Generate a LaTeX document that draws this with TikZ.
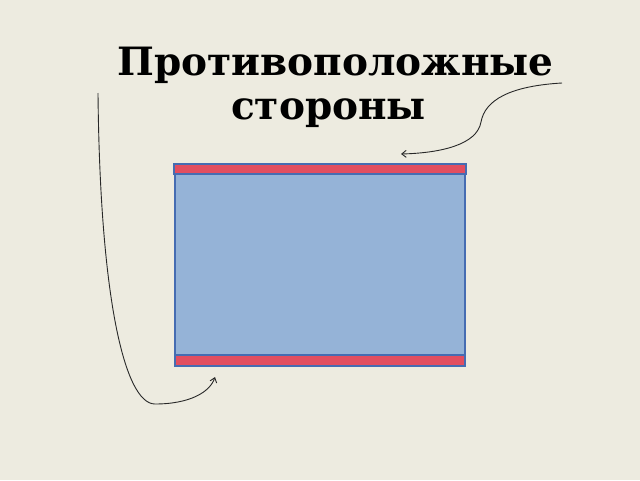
\documentclass[tikz,border=0pt]{standalone}
\usepackage{fontspec}
\newfontfamily\titlefont{DejaVu Serif}
\usetikzlibrary{arrows.meta}
\definecolor{bg}{RGB}{237,235,224}
\definecolor{boxfill}{RGB}{149,179,215}
\definecolor{boxline}{RGB}{70,108,178}
\definecolor{barred}{RGB}{226,78,96}
\definecolor{curve}{RGB}{40,40,40}
\tikzset{
  titletext/.style={font=\titlefont\bfseries\fontsize{39}{46}\selectfont, inner sep=0pt, anchor=base},
  sidebar/.style={draw=boxline, line width=1.5pt, fill=barred},
  mainbox/.style={draw=boxline, line width=1.5pt, fill=boxfill},
  pointer/.style={draw=curve, line width=0.9pt, -{Straight Barb[length=4.5pt,width=7pt]}}
}
\begin{document}
\begin{tikzpicture}[x=1pt,y=-1pt]
\fill[bg] (0,0) rectangle (640,480);
\useasboundingbox (0,0) rectangle (640,480);
\node[titletext] (t1) at (335.5,75) {Противоположные};
\node[titletext] (t2) at (328.5,119) {стороны};
\draw[mainbox] (175,169) rectangle (465,361);
\draw[sidebar] (174,164) rectangle (466,174);
\draw[sidebar] (175,355) rectangle (465,366);
\coordinate (a1s) at (562,83);
\coordinate (a1e) at (401,154);
\coordinate (a2s) at (98,93);
\coordinate (a2m) at (155,404);
\coordinate (a2e) at (215,377);
\draw[pointer] (a1s) .. controls (510,86) and (485,100) .. (481,122) .. controls (477,145) and (440,153) .. (a1e);
\draw[pointer] (a2s) .. controls (100,300) and (125,404) .. (a2m) .. controls (190,404) and (210,392) .. (a2e);
\end{tikzpicture}
\end{document}
